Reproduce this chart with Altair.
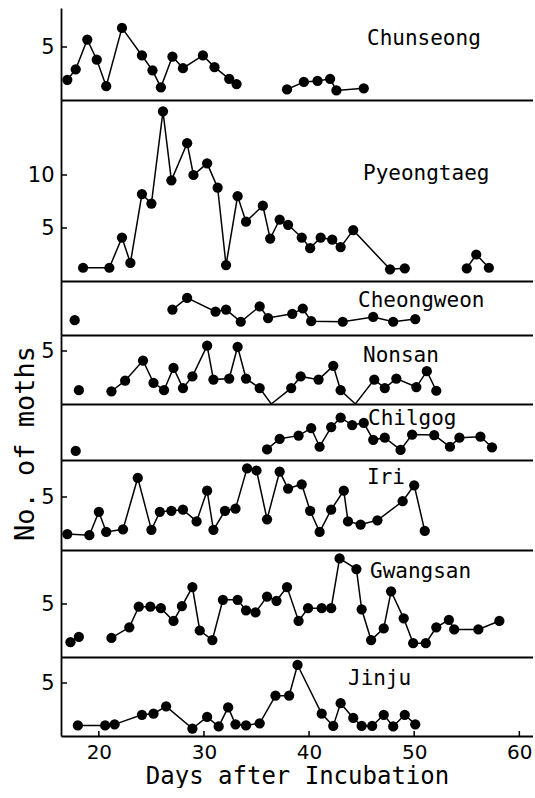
import altair as alt
import pandas as pd

# ---------------- data ----------------
sites = ["Chunseong", "Pyeongtaeg", "Cheongweon", "Nonsan",
         "Chilgog", "Iri", "Gwangsan", "Jinju"]

chunseong_day = [17.0, 17.8, 18.9, 19.8, 20.7, 22.2, 24.1, 25.1, 25.9, 27.0, 28.0, 29.9, 31.0, 32.4, 33.1,
                 37.9, 39.5, 40.8, 42.0, 42.6, 45.2]
chunseong_val = [1.9, 2.9, 5.7, 3.8, 1.3, 6.8, 4.2, 2.8, 1.2, 4.1, 3.0, 4.2, 3.1, 2.0, 1.5,
                 1.0, 1.7, 1.8, 2.0, 0.9, 1.1]
chunseong_seg = [1] * 15 + [2] * 6

pyeongtaeg_day = [18.5, 21.0, 22.2, 23.0, 24.1, 25.0, 26.1, 26.9, 28.4, 29.0, 30.3, 31.3, 32.1, 33.2, 34.0,
                  35.6, 36.3, 37.2, 38.0, 39.3, 40.1, 41.1, 42.2, 43.0, 44.2, 47.7, 49.1,
                  55.0, 55.9, 57.1]
pyeongtaeg_val = [1.25, 1.25, 4.1, 1.7, 8.2, 7.3, 16.0, 9.5, 13.0, 10.0, 11.1, 8.8, 1.5, 8.0, 5.6,
                  7.1, 4.0, 5.8, 5.3, 4.1, 3.1, 4.1, 3.9, 3.2, 4.8, 1.1, 1.2,
                  1.2, 2.5, 1.25]
pyeongtaeg_seg = [1] * 27 + [2] * 3

cheongweon_day = [17.7, 27.0, 28.4, 31.1, 32.1, 33.5, 35.3, 36.1, 38.4, 39.4, 40.2, 43.2, 46.1, 48.0, 50.1]
cheongweon_val = [1.4, 2.4, 3.5, 2.2, 2.4, 1.25, 2.7, 1.6, 2.0, 2.5, 1.3, 1.25, 1.7, 1.25, 1.5]
cheongweon_seg = [1] + [2] * 14

nonsan_day = [18.1, 21.2, 22.5, 24.2, 25.2, 26.2, 27.1, 28.0, 28.9, 30.3, 30.9, 32.4, 33.2, 34.0, 35.3,
              36.4, 38.3, 39.2, 40.9, 42.3, 43.0, 44.4, 46.2, 47.2, 48.3, 50.2, 51.2, 52.1]
nonsan_val = [1.3, 1.2, 2.2, 4.1, 2.0, 1.3, 3.4, 1.5, 2.6, 5.5, 2.3, 2.4, 5.4, 2.4, 1.5,
              0.0, 1.5, 2.6, 2.3, 3.6, 1.3, 0.0, 2.3, 1.5, 2.4, 1.6, 3.1, 1.25]
nonsan_seg = [1] + [2] * 27

chilgog_day = [17.8, 36.0, 37.2, 39.0, 40.2, 41.0, 42.1, 43.0, 44.1, 45.2, 46.1, 47.2, 48.7, 49.8,
               51.9, 53.4, 54.3, 56.3, 57.4]
chilgog_val = [0.85, 1.0, 2.0, 2.3, 3.0, 1.25, 3.1, 4.0, 3.3, 3.5, 1.9, 2.1, 0.95, 2.4,
               2.35, 1.25, 2.1, 2.2, 1.2]
chilgog_seg = [1] + [2] * 18

iri_day = [17.0, 19.1, 20.0, 20.7, 22.3, 23.7, 25.0, 25.8, 26.9, 28.0, 29.3, 30.3, 30.9, 32.0, 33.0,
           34.1, 35.0, 36.0, 37.2, 38.0, 39.3, 40.1, 41.0, 42.1, 43.3, 43.7, 44.9, 46.5, 48.9, 50.0, 51.0]
iri_val = [1.5, 1.4, 3.6, 1.7, 1.95, 6.8, 1.9, 3.6, 3.7, 3.8, 2.7, 5.6, 1.9, 3.7, 3.9,
           7.7, 7.5, 2.9, 7.4, 5.8, 6.2, 3.7, 1.7, 3.8, 5.6, 2.7, 2.4, 2.8, 4.6, 6.1, 1.8]
iri_seg = [1] * 31

gwangsan_day = [17.3, 18.1, 21.2, 22.9, 23.8, 24.9, 25.9, 27.1, 27.9, 28.9, 29.6, 30.8, 31.8, 33.2, 34.0,
                34.9, 36.0, 36.9, 37.9, 39.0, 39.9, 41.2, 42.1, 42.9, 44.5, 45.0, 45.9, 47.1, 47.8,
                49.0, 49.9, 51.1, 52.1, 53.3, 53.8, 56.1, 58.1]
gwangsan_val = [1.4, 1.9, 1.8, 2.8, 4.75, 4.75, 4.6, 3.4, 4.8, 6.6, 2.5, 1.6, 5.4, 5.4, 4.4,
                4.2, 5.7, 5.3, 6.6, 3.4, 4.6, 4.6, 4.6, 9.3, 8.3, 4.5, 1.6, 2.7, 6.2,
                3.65, 1.3, 1.3, 2.8, 3.5, 2.6, 2.6, 3.4]
gwangsan_seg = [1] * 2 + [2] * 35

jinju_day = [18.0, 20.6, 21.5, 24.1, 25.2, 26.4, 28.9, 30.3, 31.4, 32.3, 33.0, 34.0, 35.3, 36.8, 38.1,
             38.9, 41.2, 42.3, 43.0, 44.2, 45.0, 46.0, 47.1, 48.0, 49.1, 50.1]
jinju_val = [1.0, 1.0, 1.1, 2.0, 2.1, 2.8, 0.7, 1.8, 0.9, 2.7, 1.1, 1.0, 1.2, 3.8, 3.8,
             6.7, 2.1, 0.95, 3.1, 1.7, 0.95, 0.95, 2.0, 0.9, 2.0, 1.1]
jinju_seg = [1] * 26

x_ticks = [20, 30, 40, 50, 60]
y_ticks = {
    "Chunseong": [5], "Pyeongtaeg": [5, 10], "Cheongweon": [], "Nonsan": [5],
    "Chilgog": [], "Iri": [5], "Gwangsan": [5], "Jinju": [5],
}

series = {
    "Chunseong": (chunseong_day, chunseong_val, chunseong_seg),
    "Pyeongtaeg": (pyeongtaeg_day, pyeongtaeg_val, pyeongtaeg_seg),
    "Cheongweon": (cheongweon_day, cheongweon_val, cheongweon_seg),
    "Nonsan": (nonsan_day, nonsan_val, nonsan_seg),
    "Chilgog": (chilgog_day, chilgog_val, chilgog_seg),
    "Iri": (iri_day, iri_val, iri_seg),
    "Gwangsan": (gwangsan_day, gwangsan_val, gwangsan_seg),
    "Jinju": (jinju_day, jinju_val, jinju_seg),
}

# ---------------- layout / style ----------------
W = 472
PX_PER_UNIT = 10.6
panel_h = {"Chunseong": 92, "Pyeongtaeg": 181, "Cheongweon": 54, "Nonsan": 69,
           "Chilgog": 56, "Iri": 90, "Gwangsan": 107, "Jinju": 79}
label_xy = {"Chunseong": (306, 37), "Pyeongtaeg": (302, 80), "Cheongweon": (297, 26),
            "Nonsan": (302, 27), "Chilgog": (307, 21), "Iri": (306, 24),
            "Gwangsan": (309, 28), "Jinju": (287, 28)}
X_DOMAIN = [16.4, 61.3]
MONO = "DejaVu Sans Mono"
SANS = "DejaVu Sans"

panels = []
for i, name in enumerate(sites):
    days, vals, segs = series[name]
    df = pd.DataFrame({"day": days, "n": vals, "seg": segs})
    h = panel_h[name]
    bottom = (i == len(sites) - 1)
    xs = alt.Scale(domain=X_DOMAIN, nice=False, zero=False)
    ys = alt.Scale(domain=[0, h / PX_PER_UNIT], nice=False, zero=False)
    if bottom:
        xaxis = alt.Axis(values=x_ticks, ticks=False, grid=False, labelPadding=6,
                         labelFont=SANS, labelFontSize=20, labelColor="black",
                         title="Days after Incubation", titleFont=MONO, titleFontSize=24,
                         titleFontWeight="normal", titleColor="black",
                         titleY=47, titleBaseline="alphabetic")
    else:
        xaxis = alt.Axis(labels=False, ticks=False, grid=False, title=None)
    yargs = dict(values=y_ticks[name], ticks=False, grid=False, labelPadding=7,
                 labelFont=SANS, labelFontSize=21, labelColor="black")
    if name == "Chilgog":
        yargs.update(title="No. of moths", titleFont=MONO, titleFontSize=27,
                     titleFontWeight="normal", titleColor="black",
                     titleAngle=270, titleX=-28, titleY=39, titleAlign="center",
                     titleBaseline="alphabetic")
    else:
        yargs.update(title=None)
    yaxis = alt.Axis(**yargs)

    line = alt.Chart(df).mark_line(color="black", strokeWidth=1.5).encode(
        x=alt.X("day:Q", scale=xs, axis=xaxis),
        y=alt.Y("n:Q", scale=ys, axis=yaxis),
        detail="seg:N",
    )
    pts = alt.Chart(df).transform_filter("datum.n > 0").mark_circle(
        color="black", size=105, opacity=1).encode(x="day:Q", y="n:Q")
    lx, ly = label_xy[name]
    lab = alt.Chart(pd.DataFrame({"t": [name]})).mark_text(
        align="left", baseline="alphabetic", font=MONO, fontSize=21, color="black"
    ).encode(x=alt.value(lx), y=alt.value(ly), text="t:N")
    layers = [line, pts, lab]
    if y_ticks[name]:
        yt = alt.Chart(pd.DataFrame({"n": y_ticks[name]})).mark_rule(
            color="black", strokeWidth=1.5).encode(x=alt.value(0), x2=alt.value(6), y="n:Q")
        layers.append(yt)
    if bottom:
        xt = alt.Chart(pd.DataFrame({"day": x_ticks})).mark_rule(
            color="black", strokeWidth=1.5).encode(x="day:Q", y=alt.value(h), y2=alt.value(h - 5))
        layers.append(xt)
    panels.append(alt.layer(*layers).properties(width=W, height=h))

chart = alt.vconcat(*panels, spacing=0, bounds="flush").resolve_scale(y="independent").properties(
    padding={"left": 10, "top": 8, "right": 0, "bottom": 0},
    background="white",
).configure_view(stroke=None).configure_axis(
    domainColor="black", domainWidth=1.8
)

chart.save("out.html", embed_options={"renderer": "svg", "actions": False})
